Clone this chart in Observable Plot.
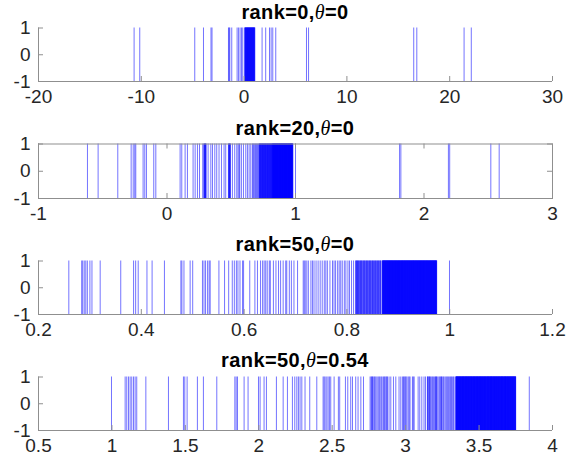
<!DOCTYPE html>
<html><head><meta charset="utf-8">
<script src="https://cdn.jsdelivr.net/npm/d3@7"></script>
<script src="https://cdn.jsdelivr.net/npm/@observablehq/plot@0.6"></script>
<style>
body{margin:0;background:#fff;}
#wrap{position:relative;width:566px;height:464px;overflow:hidden;}
.panel{position:absolute;left:0;width:566px;height:116px;}
.title{position:absolute;left:38px;width:514px;text-align:center;font:bold 20px "Liberation Sans",Arial,sans-serif;letter-spacing:0.4px;line-height:22px;color:#000;white-space:nowrap;}
.title i{font-family:"Liberation Serif","DejaVu Serif",serif;font-weight:normal;font-style:italic;}
</style>
</head><body>
<div id="wrap"></div>
<script>
// ---- data (eigenvalue positions) ----
const titles = ["rank=0,|θ|=0", "rank=20,|θ|=0", "rank=50,|θ|=0", "rank=50,|θ|=0.54"];

const rank0 = [-10.7, -10.15, -4.8, -3.95, -3.22, -3.12, -1.52, -1.45, -1.39, -1.2, -0.68, -0.54, -0.39, -0.25, -0.13,
  0.06, 0.09, 0.11, 0.13, 0.16, 0.18, 0.2, 0.22, 0.25, 0.27, 0.29, 0.31, 0.33, 0.36, 0.38, 0.4, 0.42, 0.44, 0.47, 0.49,
  0.51, 0.53, 0.55, 0.58, 0.6, 0.62, 0.64, 0.66, 0.69, 0.71, 0.73, 0.75, 0.77, 0.8, 0.82, 0.84, 0.86, 0.88, 0.91, 0.93,
  0.95, 0.97, 0.99, 1.02, 1.04,
  1.75, 2.1, 2.47, 2.63, 2.79, 3.08, 6.07, 6.27, 16.5, 16.8, 21.4, 22.1];

const rank20 = [-0.619, -0.536, -0.383, -0.279, -0.263, -0.251, -0.243, -0.186, -0.173, -0.160, -0.103, -0.087,
  0.102, 0.115, 0.141, 0.159, 0.203, 0.219, 0.237, 0.253, 0.278, 0.287, 0.289, 0.292, 0.295, 0.297, 0.300, 0.302, 0.304,
  0.320, 0.341, 0.354, 0.372, 0.387, 0.405, 0.424, 0.444, 0.457, 0.478, 0.481, 0.483, 0.486, 0.488, 0.491, 0.494,
  0.509, 0.527, 0.543, 0.553, 0.561, 0.566, 0.579, 0.595, 0.613, 0.626, 0.639, 0.652,
  0.665, 0.671, 0.677, 0.684, 0.690, 0.697, 0.704, 0.711, 0.717, 0.721, 0.726, 0.730, 0.734, 0.739, 0.743, 0.747,
  0.752, 0.756, 0.760, 0.765, 0.769, 0.773, 0.778, 0.782, 0.786, 0.791, 0.795, 0.799, 0.804, 0.808, 0.812, 0.816,
  0.719, 0.723, 0.728, 0.732, 0.737, 0.741, 0.745, 0.750, 0.754, 0.758, 0.763, 0.767, 0.771, 0.776, 0.780, 0.784,
  0.789, 0.793, 0.797, 0.802, 0.806, 0.810, 0.814, 0.818,
  0.820, 0.822, 0.825, 0.827, 0.830, 0.832, 0.835, 0.837, 0.840, 0.842, 0.845, 0.847, 0.850, 0.852, 0.855, 0.857,
  0.860, 0.862, 0.865, 0.867, 0.870, 0.872, 0.875, 0.877, 0.880, 0.882, 0.885, 0.887, 0.890, 0.892, 0.895, 0.897,
  0.900, 0.902, 0.905, 0.907, 0.910, 0.912, 0.915, 0.917, 0.920, 0.922, 0.925, 0.927, 0.930, 0.932, 0.935, 0.937,
  0.940, 0.942, 0.945, 0.947, 0.950, 0.952, 0.955, 0.957, 0.960, 0.962, 0.965, 0.967, 0.970, 0.972, 0.975, 0.978,
  0.821, 0.824, 0.826, 0.829, 0.831, 0.834, 0.836, 0.839, 0.841, 0.844, 0.846, 0.849, 0.851, 0.854, 0.856, 0.859,
  0.861, 0.864, 0.866, 0.869, 0.871, 0.874, 0.876, 0.879, 0.881, 0.884, 0.886, 0.889, 0.891, 0.894, 0.896, 0.899,
  0.901, 0.904, 0.906, 0.909, 0.911, 0.914, 0.916, 0.919, 0.921, 0.924, 0.926, 0.929, 0.931, 0.934, 0.936, 0.939,
  0.941, 0.944, 0.946, 0.949, 0.951, 0.954, 0.956, 0.959, 0.961, 0.964, 0.966, 0.969, 0.971, 0.974, 0.976, 0.979,
  1.0, 1.81, 1.82, 2.19, 2.2, 2.52, 2.585];

const rank50 = [0.259, 0.284, 0.286, 0.289, 0.292, 0.295, 0.300, 0.304, 0.320, 0.360, 0.385, 0.389, 0.394, 0.411,
  0.421, 0.445, 0.477, 0.479, 0.483, 0.495, 0.500, 0.519, 0.522, 0.525, 0.529, 0.532, 0.534, 0.551, 0.562, 0.570,
  0.577, 0.581, 0.585, 0.588, 0.592, 0.597, 0.599, 0.611, 0.621, 0.626, 0.632, 0.636, 0.639, 0.642, 0.645, 0.649,
  0.651, 0.657, 0.662, 0.667, 0.671, 0.676, 0.681, 0.683, 0.688, 0.692, 0.697, 0.704, 0.715, 0.717, 0.719, 0.722,
  0.725, 0.730, 0.733, 0.736, 0.740, 0.744, 0.748, 0.752, 0.756, 0.759, 0.762, 0.767, 0.772, 0.775, 0.778, 0.782,
  0.785, 0.788, 0.791, 0.795, 0.798, 0.802, 0.805, 0.809, 0.813,
  0.8170, 0.8178, 0.8185, 0.8196, 0.8203, 0.8210, 0.8222, 0.8230, 0.8238, 0.8251, 0.8259, 0.8266, 0.8280, 0.8287,
  0.8295, 0.8310, 0.8318, 0.8326, 0.8340, 0.8348, 0.8355, 0.8370, 0.8378, 0.8385, 0.8399, 0.8407, 0.8416, 0.8430,
  0.8437, 0.8445, 0.8458, 0.8466, 0.8475, 0.8490, 0.8498, 0.8505, 0.8519, 0.8527, 0.8536, 0.8550, 0.8558, 0.8566,
  0.8580, 0.8588, 0.8596, 0.8610, 0.8618, 0.8626, 0.8640, 0.8648, 0.8656, 0.8665,
  0.8690, 0.8694, 0.8697, 0.8701, 0.8705, 0.8709, 0.8712, 0.8716, 0.8721, 0.8725, 0.8728, 0.8732, 0.8736, 0.8740,
  0.8743, 0.8748, 0.8752, 0.8755, 0.8759, 0.8763, 0.8767, 0.8771, 0.8775, 0.8779, 0.8782, 0.8786, 0.8790, 0.8794,
  0.8798, 0.8802, 0.8806, 0.8810, 0.8813, 0.8817, 0.8821, 0.8825, 0.8829, 0.8833, 0.8836, 0.8840, 0.8845, 0.8848,
  0.8852, 0.8856, 0.8860, 0.8864, 0.8867, 0.8871, 0.8875, 0.8879, 0.8883, 0.8887, 0.8891, 0.8895, 0.8898, 0.8902,
  0.8906, 0.8910, 0.8914, 0.8918, 0.8921, 0.8925, 0.8929, 0.8933, 0.8937, 0.8941, 0.8945, 0.8949, 0.8952, 0.8956,
  0.8960, 0.8964, 0.8968, 0.8972, 0.8975, 0.8979, 0.8983, 0.8987, 0.8991, 0.8995, 0.8999, 0.9003, 0.9006, 0.9010,
  0.9014, 0.9018, 0.9022, 0.9026, 0.9029, 0.9033, 0.9037, 0.9041, 0.9045, 0.9049, 0.9053, 0.9057, 0.9060, 0.9064,
  0.9068, 0.9072, 0.9076, 0.9080, 0.9083, 0.9087, 0.9091, 0.9095, 0.9099, 0.9103, 0.9107, 0.9111, 0.9114, 0.9118,
  0.9122, 0.9126, 0.9130, 0.9134, 0.9137, 0.9141, 0.9145, 0.9149, 0.9153, 0.9157, 0.9161, 0.9165, 0.9168, 0.9172,
  0.9176, 0.9180, 0.9184, 0.9188, 0.9191, 0.9195, 0.9199, 0.9203, 0.9207, 0.9211, 0.9215, 0.9219, 0.9222, 0.9226,
  0.9230, 0.9234, 0.9238, 0.9242, 0.9245, 0.9249, 0.9253, 0.9257, 0.9261, 0.9265, 0.9269, 0.9273, 0.9276, 0.9280,
  0.9284, 0.9288, 0.9292, 0.9296, 0.9299, 0.9303, 0.9307, 0.9311, 0.9315, 0.9319, 0.9323, 0.9327, 0.9330, 0.9334,
  0.9338, 0.9342, 0.9346, 0.9350, 0.9353, 0.9357, 0.9361, 0.9365, 0.9369, 0.9373, 0.9377, 0.9381, 0.9384, 0.9388,
  0.9392, 0.9396, 0.9400, 0.9404, 0.9407, 0.9411, 0.9415, 0.9419, 0.9423, 0.9427, 0.9431, 0.9435, 0.9438, 0.9442,
  0.9446, 0.9450, 0.9454, 0.9458, 0.9461, 0.9465, 0.9469, 0.9473, 0.9477, 0.9481, 0.9485, 0.9489, 0.9492, 0.9496,
  0.9500, 0.9504, 0.9508, 0.9512, 0.9515, 0.9519, 0.9523, 0.9527, 0.9531, 0.9535, 0.9539, 0.9543, 0.9546, 0.9550,
  0.9554, 0.9558, 0.9562, 0.9566, 0.9569, 0.9573, 0.9577, 0.9581, 0.9585, 0.9589, 0.9593, 0.9597, 0.9600, 0.9604,
  0.9608, 0.9612, 0.9616, 0.9620, 0.9623, 0.9627, 0.9631, 0.9635, 0.9639, 0.9643, 0.9647, 0.9651, 0.9654, 0.9658,
  0.9662, 0.9666, 0.9670, 0.9674, 0.9677, 0.9681, 0.9685, 0.9689, 0.9693, 0.9697, 0.9701, 0.9705, 0.9708, 0.9712,
  0.9716, 0.9720, 0.9724, 0.9728, 0.9731, 0.9735, 0.9739, 0.9743, 0.9747,
  0.9996];

const rank50theta = [0.997, 1.090, 1.101, 1.113, 1.124, 1.135, 1.147, 1.158, 1.169, 1.231, 1.385, 1.487, 1.496,
  1.512, 1.582, 1.623, 1.714, 1.837, 1.846, 1.855, 1.900, 1.927, 1.998, 2.009, 2.036, 2.052, 2.120, 2.166, 2.195,
  2.229, 2.245, 2.259, 2.270, 2.281, 2.293, 2.315, 2.347, 2.395, 2.438, 2.445, 2.452, 2.463, 2.472, 2.481, 2.490,
  2.513, 2.542, 2.551, 2.590, 2.606, 2.626, 2.638, 2.660, 2.676, 2.695, 2.713,
  2.758, 2.765, 2.769, 2.774, 2.778, 2.785, 2.790, 2.797, 2.805, 2.813, 2.820, 2.826, 2.834, 2.840, 2.849, 2.855,
  2.860, 2.867, 2.872, 2.876, 2.887, 2.899, 2.917, 2.933, 2.955, 2.967, 2.978, 2.985, 2.990, 2.996, 3.001, 3.008,
  3.017, 3.024, 3.030, 3.046, 3.052, 3.058, 3.085, 3.096, 3.110, 3.125, 3.135,
  3.148, 3.151, 3.153, 3.159, 3.162, 3.166, 3.171, 3.178, 3.184, 3.189, 3.197, 3.203, 3.206, 3.210, 3.214, 3.221,
  3.229, 3.235, 3.240, 3.244, 3.248, 3.255, 3.260, 3.268, 3.275, 3.281, 3.287, 3.293, 3.300, 3.306, 3.312, 3.318,
  3.325, 3.330,
  3.341, 3.344, 3.347, 3.349, 3.352, 3.355, 3.357, 3.360, 3.363, 3.366, 3.368, 3.371, 3.374, 3.376, 3.379, 3.382,
  3.385, 3.387, 3.390, 3.393, 3.395, 3.398, 3.401, 3.404, 3.406, 3.409, 3.412, 3.414, 3.417, 3.420, 3.423, 3.425,
  3.428, 3.431, 3.433, 3.436, 3.439, 3.442, 3.444, 3.447, 3.450, 3.452, 3.455, 3.458, 3.461, 3.463, 3.466, 3.469,
  3.471, 3.474, 3.477, 3.480, 3.482, 3.485, 3.488, 3.490, 3.493, 3.496, 3.499, 3.501, 3.504, 3.507, 3.509, 3.512,
  3.515, 3.518, 3.520, 3.523, 3.526, 3.528, 3.531, 3.534, 3.537, 3.539, 3.542, 3.545, 3.547, 3.550, 3.553, 3.556,
  3.558, 3.561, 3.564, 3.566, 3.569, 3.572, 3.575, 3.577, 3.580, 3.583, 3.585, 3.588, 3.591, 3.594, 3.596, 3.599,
  3.602, 3.604, 3.607, 3.610, 3.613, 3.615, 3.618, 3.621, 3.623, 3.626, 3.629, 3.632, 3.634, 3.637, 3.640, 3.642,
  3.645, 3.648, 3.651, 3.653, 3.656, 3.659, 3.661, 3.664, 3.667, 3.670, 3.672, 3.675, 3.678, 3.680, 3.683, 3.686,
  3.689, 3.691, 3.694, 3.697, 3.699, 3.702, 3.705, 3.708, 3.710, 3.713, 3.716, 3.718, 3.721, 3.724, 3.727, 3.729,
  3.732, 3.735, 3.737, 3.740, 3.743, 3.746, 3.748,
  3.3425, 3.3455, 3.3485, 3.3505, 3.3535, 3.3565, 3.3585, 3.3615, 3.3645, 3.3675, 3.3695, 3.3725, 3.3755, 3.3775,
  3.3805, 3.3835, 3.3865, 3.3885, 3.3915, 3.3945, 3.3965, 3.3995, 3.4025, 3.4055, 3.4075, 3.4105, 3.4135, 3.4155,
  3.4185, 3.4215, 3.4245, 3.4265, 3.4295, 3.4325, 3.4345, 3.4375, 3.4405, 3.4435, 3.4455, 3.4485, 3.4515, 3.4535,
  3.4565, 3.4595, 3.4625, 3.4645, 3.4675, 3.4705, 3.4725, 3.4755, 3.4785, 3.4815, 3.4835, 3.4865, 3.4895, 3.4915,
  3.4945, 3.4975, 3.5005, 3.5025, 3.5055, 3.5085, 3.5105, 3.5135, 3.5165, 3.5195, 3.5215, 3.5245, 3.5275, 3.5295,
  3.5325, 3.5355, 3.5385, 3.5405, 3.5435, 3.5465, 3.5485, 3.5515, 3.5545, 3.5575, 3.5595, 3.5625, 3.5655, 3.5675,
  3.5705, 3.5735, 3.5765, 3.5785, 3.5815, 3.5845, 3.5865, 3.5895, 3.5925, 3.5955, 3.5975, 3.6005, 3.6035, 3.6055,
  3.6085, 3.6115, 3.6145, 3.6165, 3.6195, 3.6225, 3.6245, 3.6275, 3.6305, 3.6335, 3.6355, 3.6385, 3.6415, 3.6435,
  3.6465, 3.6495, 3.6525, 3.6545, 3.6575, 3.6605, 3.6625, 3.6655, 3.6685, 3.6715, 3.6735, 3.6765, 3.6795, 3.6815,
  3.6845, 3.6875, 3.6905, 3.6925, 3.6955, 3.6985, 3.7005, 3.7035, 3.7065, 3.7095, 3.7115, 3.7145, 3.7175, 3.7195,
  3.7225, 3.7255, 3.7285, 3.7305, 3.7335, 3.7365, 3.7385, 3.7415, 3.7445, 3.7475, 3.7495,
  3.842];

const xTicks1 = [-20, -10, 0, 10, 20, 30];
const xTicks2 = [-1, 0, 1, 2, 3];
const xTicks3 = [0.2, 0.4, 0.6, 0.8, 1, 1.2];
const xTicks4 = [0.5, 1, 1.5, 2, 2.5, 3, 3.5, 4];
const yTicks = [-1, 0, 1];

// ---- layout ----
const W = 566, H = 116, ML = 38, MR = 14;
const axisColor = "#8f8f8f";
const textColor = "#262626";

const panels = [
  {title: titles[0], values: rank0, domain: [-20, 30], ticks: xTicks1, box: false, top: 27.5, bottom: 35},
  {title: titles[1], values: rank20, domain: [-1, 3], ticks: xTicks2, box: true, top: 27.5, bottom: 34},
  {title: titles[2], values: rank50, domain: [0.2, 1.2], ticks: xTicks3, box: false, top: 28.5, bottom: 34},
  {title: titles[3], values: rank50theta, domain: [0.5, 4], ticks: xTicks4, box: false, top: 28.5, bottom: 34}
];

const wrap = document.getElementById("wrap");
panels.forEach((p, i) => {
  const innerH = H - p.top - p.bottom;
  const innerW = W - ML - MR;
  const chart = Plot.plot({
    width: W, height: H,
    marginLeft: ML, marginRight: MR, marginTop: p.top, marginBottom: p.bottom,
    x: {domain: p.domain},
    y: {domain: [-1, 1]},
    style: {fontFamily: "'Liberation Sans', Arial, sans-serif", fontSize: "19px", color: textColor, background: "transparent", overflow: "visible"},
    marks: [
      Plot.ruleX(p.values, {x: d => d, y1: -1, y2: 1, stroke: "#0000ff", strokeOpacity: 0.55, strokeWidth: 1}),
      p.box ? Plot.frame({stroke: axisColor}) : null,
      Plot.ruleY([-1], {stroke: axisColor}),
      Plot.ruleX([p.domain[0]], {stroke: axisColor}),
      Plot.tickX(p.ticks, {x: d => d, stroke: axisColor, insetTop: innerH - 5}),
      p.box ? Plot.tickX(p.ticks, {x: d => d, stroke: axisColor, insetBottom: innerH - 5}) : null,
      Plot.tickY(yTicks, {y: d => d, stroke: axisColor, insetRight: innerW - 5}),
      p.box ? Plot.tickY(yTicks, {y: d => d, stroke: axisColor, insetLeft: innerW - 5}) : null,
      Plot.axisX(p.ticks, {tickSize: 0, tickPadding: 8, tickFormat: d => String(d), fill: textColor}),
      Plot.axisY(yTicks, {tickSize: 0, tickPadding: 8, tickFormat: d => String(d), fill: textColor})
    ]
  });
  const holder = document.createElement("div");
  holder.className = "panel";
  holder.style.top = (i * H) + "px";
  holder.appendChild(chart);
  wrap.appendChild(holder);

  const t = document.createElement("div");
  t.className = "title";
  t.style.top = (i * H + 0.5) + "px";
  const parts = p.title.split("|");
  t.appendChild(document.createTextNode(parts[0]));
  const it = document.createElement("i");
  it.textContent = parts[1];
  t.appendChild(it);
  t.appendChild(document.createTextNode(parts[2]));
  wrap.appendChild(t);
});
</script>
</body></html>
